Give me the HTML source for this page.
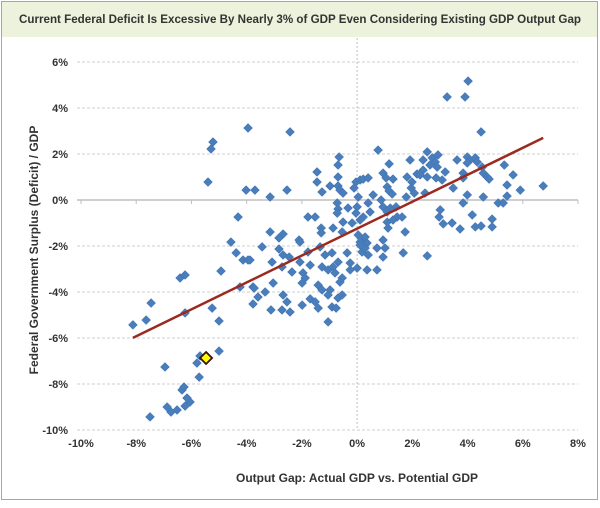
<!DOCTYPE html>
<html><head><meta charset="utf-8"><style>
body{margin:0;background:#fff;}
svg text{font-family:"Liberation Sans",sans-serif;font-weight:bold;fill:#333;}
</style></head><body>
<svg width="600" height="503" viewBox="0 0 600 503" xmlns="http://www.w3.org/2000/svg">
<rect x="1.5" y="1.5" width="596" height="498" fill="#fff" stroke="#a6a6a6"/>
<rect x="2" y="2" width="595" height="35" fill="#ecf2dc"/>
<text x="300" y="23" text-anchor="middle" font-size="12" textLength="562" lengthAdjust="spacingAndGlyphs" fill="#222">Current Federal Deficit Is Excessive By Nearly 3% of GDP Even Considering Existing GDP Output Gap</text>
<g id="grid"></g>
<g id="axes"></g>
<g id="marks"></g>
<text x="0" y="0" transform="translate(38,250) rotate(-90)" text-anchor="middle" font-size="12">Federal Government Surplus (Deficit) / GDP</text>
<text x="357" y="482" text-anchor="middle" font-size="12">Output Gap:  Actual GDP vs. Potential GDP</text>
</svg>
<script>
const xTicks=[-10,-8,-6,-4,-2,0,2,4,6,8];
const yTicks=[6,4,2,0,-2,-4,-6,-8,-10];
const gapX=[-6.96,-5.80,-5.69,-5.00,-5.72,-6.34,-6.27,-6.23,-6.05,-6.16,-6.88,-6.74,-6.52,-7.5,-8.12,-7.64,-7.46,-6.23,-5.25,-5.0,-4.24,-3.77,-3.77,-3.59,
-6.41,-6.23,-4.93,-4.57,-4.38,-4.31,-4.13,-3.95,-5.4,-5.29,-5.22,-3.95,-4.02,-3.70,
-2.43,0.76,-0.65,-0.69,1.92,1.16,-1.45,-0.69,0.94,1.05,1.30,1.81,2.17,-1.45,-0.98,-0.69,-0.62,-0.51,-1.27,-0.04,0.11,0.22,0.40,-0.11,0.04,1.09,1.16,1.27,1.99,1.96,1.78,2.07,-3.15,-2.54,
-0.72,-0.69,-0.72,-0.33,0,0.40,0.58,0.87,0.94,1.20,1.41,0.47,0.22,-0.04,0.11,-0.18,-0.51,-0.54,-0.87,-1.30,-1.30,-1.78,-1.52,-3.15,-2.68,-2.83,-2.10,-3.44,1.12,1.09,0.94,1.45,1.63,1.30,1.74,1.09,0.04,0.22,0.11,0.36,0.29,-1.34,
-3.08,-2.83,-2.68,-2.46,-2.72,-2.07,-1.78,-2.07,-1.70,-2.36,-1.96,-1.88,-1.99,-1.16,-0.91,-1.27,-1.05,-0.87,-0.80,-0.69,-0.54,-0.62,-0.36,-0.25,-0.25,0,0.18,0.29,0.40,0.11,0.72,0.72,0.94,1.01,0.36,1.67,-3.88,-3.73,-3.33,-3.04,-3.12,-2.72,-2.68,-2.54,-2.43,-1.99,-1.70,-1.52,-1.41,-1.41,-1.27,-0.98,-1.05,-0.91,-0.76,-0.69,-0.54,-1.05,
4.02,3.26,3.91,4.49,2.54,2.39,2.72,2.93,2.83,2.64,2.90,3.19,2.39,2.28,2.54,2.86,3.08,2.46,3.48,3.62,3.99,4.09,3.99,4.28,4.35,4.53,3.84,3.84,4.57,4.71,4.78,5.33,5.65,5.43,5.91,6.74,5.43,5.11,5.29,4.57,3.99,3.84,3.01,2.97,3.12,3.44,3.73,4.17,4.28,4.49,4.89,4.89,2.54];
const surplusY=[-7.26,-7.09,-6.78,-6.57,-7.70,-8.26,-8.13,-8.96,-8.78,-8.61,-9.0,-9.22,-9.13,-9.43,-5.43,-5.22,-4.48,-4.91,-4.70,-5.26,-3.78,-3.78,-4.52,-4.22,
-3.39,-3.26,-3.09,-1.83,-2.30,-0.74,-2.61,-2.61,0.78,2.22,2.52,3.13,0.43,0.43,
2.96,2.17,1.87,1.52,1.74,1.57,1.22,1.0,1.17,0.96,0.91,1.0,1.13,0.78,0.61,0.61,0.43,0.30,0.35,0.78,0.87,0.91,0.96,0.52,0.13,0.57,0.39,0.26,0.78,0.52,0.13,0.30,0.13,0.43,
-0.13,-0.39,-0.57,-0.35,-0.30,-0.13,0.22,0,-0.30,-0.35,-0.30,-0.52,-0.74,-0.57,-0.87,-1.0,-0.96,-1.39,-1.22,-1.22,-1.43,-0.74,-0.74,-1.39,-1.48,-1.65,-1.74,-2.04,-1.22,-0.96,-1.74,-0.74,-0.74,-0.87,-1.39,-0.52,-1.52,-1.74,-1.83,-1.87,-1.61,-2.04,
-2.70,-2.13,-2.39,-2.48,-2.91,-1.83,-2.26,-2.70,-2.83,-3.13,-3.17,-3.39,-3.61,-2.39,-2.30,-2.91,-3.04,-2.91,-3.17,-2.70,-3.39,-3.57,-2.30,-2.74,-3.04,-2.96,-2.26,-2.09,-2.39,-1.96,-2.09,-3.04,-2.48,-2.09,-3.04,-2.30,-2.61,-3.83,-4.0,-3.61,-4.78,-4.78,-4.13,-4.43,-4.87,-4.57,-4.30,-4.43,-4.70,-3.70,-3.91,-3.91,-4.13,-4.65,-4.70,-4.26,-4.13,-5.30,
5.17,4.48,4.48,2.96,2.09,1.74,1.83,1.96,1.65,1.52,1.43,1.22,1.30,1.09,1.0,0.96,0.87,0.30,0.52,1.74,1.87,1.74,1.61,1.83,1.65,1.43,1.17,0.96,1.17,1.0,0.91,1.52,1.09,0.65,0.43,0.61,0.17,-0.13,-0.13,0.13,0.22,-0.13,-0.43,-0.74,-1.04,-1.0,-1.26,-0.65,-1.17,-1.13,-0.83,-1.17,-2.43];
const currentX=[-5.47];
const currentY=[-6.87];

const NS="http://www.w3.org/2000/svg";
const X0=81,X1=578,Y0=62,Y1=430;
function sx(v){return X0+(v-(-10))*(X1-X0)/18;}
function sy(v){return Y0+(6-v)*(Y1-Y0)/16;}
function mk(tag,attrs,parent){const e=document.createElementNS(NS,tag);for(const k in attrs)e.setAttribute(k,attrs[k]);parent.appendChild(e);return e;}
const grid=document.getElementById('grid'),axes=document.getElementById('axes'),marks=document.getElementById('marks');
yTicks.forEach(t=>{
  const l=mk('line',{x1:X0-4,x2:X1,y1:sy(t),y2:sy(t),stroke:t===0?'#bfbfbf':'#cfcfcf','stroke-width':t===0?1.5:1,'stroke-dasharray':t===0?'none':'3,2'},grid);
  
  
  const tx=mk('text',{x:68,y:sy(t)+4,'text-anchor':'end','font-size':11},axes);
  tx.textContent=t+'%';
  
  
});
const vl=mk('line',{x1:sx(0),x2:sx(0),y1:38,y2:Y1,stroke:'#bfbfbf','stroke-dasharray':'2,2'},grid);


xTicks.forEach(t=>{
  const tk=mk('line',{x1:sx(t),x2:sx(t),y1:sy(0),y2:sy(0)+4,stroke:'#bfbfbf'},grid);
  
  
  const tx=mk('text',{x:sx(t),y:sy(-10)+17,'text-anchor':'middle','font-size':11},axes);
  tx.textContent=t+'%';
  
  
});
function diamond(x,y,r){return `${x},${y-r} ${x+r},${y} ${x},${y+r} ${x-r},${y}`;}
let n=gapX.length,mx=0,my=0;for(let i=0;i<n;i++){mx+=gapX[i];my+=surplusY[i];}mx/=n;my/=n;
let sxy=0,sxx=0;for(let i=0;i<n;i++){sxy+=(gapX[i]-mx)*(surplusY[i]-my);sxx+=(gapX[i]-mx)**2;}
const b=sxy/sxx,a=my-b*mx;const xmin=Math.min(...gapX),xmax=Math.max(...gapX);
for(let i=0;i<n;i++){
  const p=mk('polygon',{points:diamond(sx(gapX[i]),sy(surplusY[i]),4.5),fill:'#4a7ebb',stroke:'#3d6fae','stroke-width':0.5},marks);
  
  
}
const tl=mk('line',{x1:sx(xmin),y1:sy(a+b*xmin),x2:sx(xmax),y2:sy(a+b*xmax),stroke:'#9b2a20','stroke-width':2.5},marks);


const cp=mk('polygon',{points:diamond(sx(currentX[0]),sy(currentY[0]),6),fill:'#ffff00',stroke:'#3a0f0a','stroke-width':1.8},marks);


</script>
</body></html>
